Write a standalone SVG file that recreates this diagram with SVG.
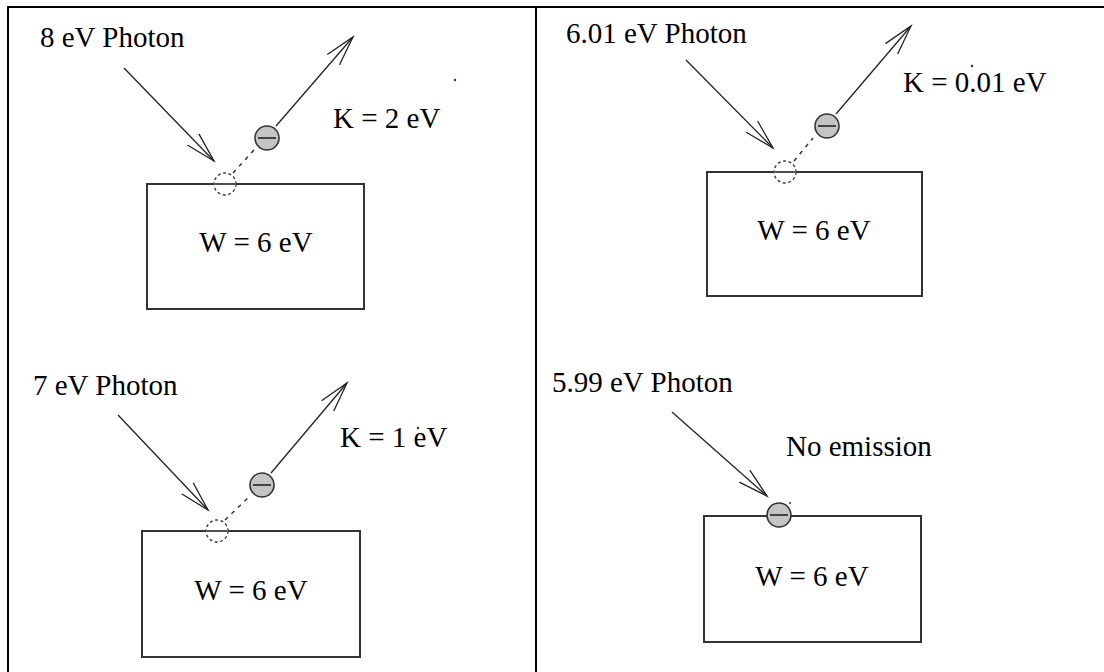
<svg xmlns="http://www.w3.org/2000/svg" width="1104" height="672" viewBox="0 0 1104 672">
<style>
  text { font-family: "Liberation Serif", "Times New Roman", serif; font-size: 29px; fill: #000; }
  .frame { stroke: #000; stroke-width: 2; fill: none; }
  .box { fill: #fff; stroke: #333; stroke-width: 2; }
  .ray { stroke: #222; stroke-width: 1.3; fill: none; }
  .dots { stroke: #333; stroke-width: 1.5; fill: none; stroke-dasharray: 4 5; }
  .ghost { fill: #fff; stroke: #333; stroke-width: 1.3; stroke-dasharray: 3 2.5; }
  .el { fill: #c4c4c4; stroke: #333; stroke-width: 1.6; }
  .minus { stroke: #222; stroke-width: 1.6; }
  .speck { fill: #333; }
</style>
<defs>
  <marker id="ah" markerUnits="userSpaceOnUse" viewBox="0 0 40 20" markerWidth="40" markerHeight="20" refX="30" refY="10" orient="auto">
    <path d="M0,2 L30,10 L0,18" fill="none" stroke="#222" stroke-width="1.3"/>
  </marker>
</defs>
<rect width="1104" height="672" fill="#fff"/>
<g id="frame">
  <line class="frame" x1="7" y1="7" x2="1104" y2="7"/>
  <line class="frame" x1="8" y1="7" x2="8" y2="672"/>
  <line class="frame" x1="536" y1="7" x2="536" y2="672"/>
</g>
<g id="connectors">
  <path class="ray" d="M124,68 L214,161" marker-end="url(#ah)"/>
  <path class="dots" d="M233,173 L254,150"/>
  <path class="ray" d="M276,126 L353,37" marker-end="url(#ah)"/>
  <path class="ray" d="M686,60 L773,148" marker-end="url(#ah)"/>
  <path class="dots" d="M794,161 L813,138"/>
  <path class="ray" d="M836,114 L911,26" marker-end="url(#ah)"/>
  <path class="ray" d="M118,415 L208,510" marker-end="url(#ah)"/>
  <path class="dots" d="M225,520 L250,496"/>
  <path class="ray" d="M271,473 L347,383" marker-end="url(#ah)"/>
  <path class="ray" d="M672,412 L767,496" marker-end="url(#ah)"/>
</g>
<g id="panel-8ev">
  <text x="40" y="47">8 eV Photon</text>
  <rect class="box" x="147" y="184" width="217" height="125"/>
  <text x="256" y="252" text-anchor="middle">W = 6 eV</text>
  <g id="ghost-8ev"><circle class="ghost" cx="225" cy="184" r="11"/><line class="minus" x1="215" y1="184" x2="235" y2="184"/></g>
  <g id="electron-8ev"><circle class="el" cx="267" cy="138" r="12"/><line class="minus" x1="258" y1="138" x2="276" y2="138"/></g>
  <text x="333" y="128">K = 2 eV</text>
  <circle class="speck" cx="455" cy="80" r="1.2"/>
</g>
<g id="panel-601ev">
  <text x="566" y="43">6.01 eV Photon</text>
  <rect class="box" x="707" y="172" width="215" height="124"/>
  <text x="814" y="240" text-anchor="middle">W = 6 eV</text>
  <g id="ghost-601ev"><circle class="ghost" cx="785" cy="172" r="11"/><line class="minus" x1="775" y1="172" x2="795" y2="172"/></g>
  <g id="electron-601ev"><circle class="el" cx="827" cy="126" r="12"/><line class="minus" x1="818" y1="126" x2="836" y2="126"/></g>
  <text x="903" y="92">K = 0.01 eV</text>
  <circle class="speck" cx="972" cy="66" r="1.2"/>
</g>
<g id="panel-7ev">
  <text x="33" y="395">7 eV Photon</text>
  <rect class="box" x="142" y="531" width="218" height="126"/>
  <text x="251" y="600" text-anchor="middle">W = 6 eV</text>
  <g id="ghost-7ev"><circle class="ghost" cx="217" cy="531" r="11"/><line class="minus" x1="207" y1="531" x2="227" y2="531"/></g>
  <g id="electron-7ev"><circle class="el" cx="262" cy="485" r="12"/><line class="minus" x1="253" y1="485" x2="271" y2="485"/></g>
  <text x="340" y="447">K = 1 eV</text>
  <circle class="speck" cx="418" cy="428" r="1.2"/>
</g>
<g id="panel-599ev">
  <text x="552" y="392">5.99 eV Photon</text>
  <rect class="box" x="704" y="516" width="217" height="126"/>
  <text x="812" y="586" text-anchor="middle">W = 6 eV</text>
  <g id="electron-599ev"><circle class="el" cx="779" cy="515" r="12"/><line class="minus" x1="770" y1="515" x2="788" y2="515"/></g>
  <circle class="speck" cx="790" cy="503" r="1"/>
  <text x="786" y="456">No emission</text>
</g>
</svg>
